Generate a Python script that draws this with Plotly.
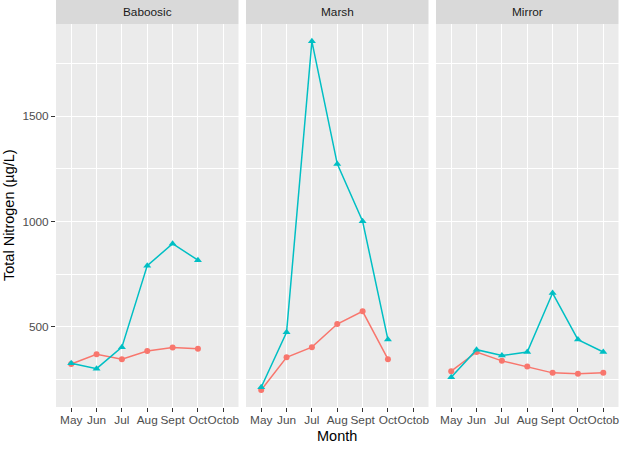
import plotly.graph_objects as go

months = ["May", "Jun", "Jul", "Aug", "Sept", "Oct", "Octob"]
sites = ["Baboosic", "Marsh", "Mirror"]

# red series (circles)
red_baboosic = [324, 370, 347, 386, 402, 396]
red_marsh = [201, 356, 404, 514, 574, 347]
red_mirror = [290, 381, 339, 312, 282, 278, 282]

# teal series (triangles)
teal_baboosic = [328, 302, 404, 791, 895, 817]
teal_marsh = [214, 475, 1856, 1274, 1002, 440]
teal_mirror = [261, 392, 364, 381, 661, 440, 381]

y_major_ticks = [500, 1000, 1500]
y_minor_ticks = [250, 750, 1250, 1750]

red_series = [red_baboosic, red_marsh, red_mirror]
teal_series = [teal_baboosic, teal_marsh, teal_mirror]

RED = "#F8766D"
TEAL = "#00BFC4"
FONT = "Liberation Sans, Arial, sans-serif"

W, H = 624, 452
panel_px = [(56, 238.5), (246, 428.5), (436, 618.5)]
top_px, bottom_px = 24, 407

fig = go.Figure()
layout = dict(
    width=W, height=H,
    margin=dict(l=0, r=0, t=0, b=0),
    paper_bgcolor="white", plot_bgcolor="#EBEBEB",
    showlegend=False,
    font=dict(family=FONT),
)

ydom = [(H - bottom_px) / H, (H - top_px) / H]
shapes = []
annotations = []
for i, site in enumerate(sites):
    suf = "" if i == 0 else str(i + 1)
    xa = "x" + suf
    ya = "y" + suf
    r = red_series[i]
    t = teal_series[i]
    fig.add_trace(go.Scatter(
        x=months[:len(r)], y=r, xaxis=xa, yaxis=ya, mode="lines+markers",
        line=dict(color=RED, width=1.5), marker=dict(color=RED, size=6, symbol="circle"),
    ))
    fig.add_trace(go.Scatter(
        x=months[:len(t)], y=t, xaxis=xa, yaxis=ya, mode="lines+markers",
        line=dict(color=TEAL, width=1.5), marker=dict(color=TEAL, size=7, symbol="triangle-up"),
    ))
    x0, x1 = panel_px[i]
    layout["xaxis" + suf] = dict(
        domain=[x0 / W, x1 / W], anchor=ya,
        type="category", categoryorder="array", categoryarray=months,
        range=[-0.6, 6.6], tickmode="array", tickvals=months, ticktext=months,
        tickangle=0, showgrid=True, gridcolor="white", gridwidth=1.1,
        ticks="outside", ticklen=4, tickwidth=1, tickcolor="#333333",
        ticklabelstandoff=-2,
        tickfont=dict(size=11.8, color="#4D4D4D", family=FONT),
        showline=False, zeroline=False, fixedrange=True, automargin=False,
    )
    layout["yaxis" + suf] = dict(
        domain=ydom, anchor=xa, range=[120, 1938],
        tickmode="array", tickvals=y_major_ticks,
        showticklabels=(i == 0),
        ticks="outside" if i == 0 else "", ticklen=4, tickwidth=1, tickcolor="#333333",
        tickfont=dict(size=11.8, color="#4D4D4D", family=FONT),
        showgrid=True, gridcolor="white", gridwidth=1.1,
        minor=dict(tickmode="array", tickvals=y_minor_ticks, showgrid=True,
                   gridcolor="white", gridwidth=0.55, ticks=""),
        zeroline=False, showline=False, fixedrange=True, automargin=False,
    )
    shapes.append(dict(type="rect", xref="paper", yref="paper",
                       x0=x0 / W, x1=x1 / W, y0=ydom[1], y1=1.0,
                       fillcolor="#D9D9D9", line=dict(width=0), layer="below"))
    annotations.append(dict(text=site, xref="paper", yref="paper",
                            x=(x0 + x1) / 2 / W, y=(H - 12) / H,
                            xanchor="center", yanchor="middle", showarrow=False,
                            font=dict(size=11.8, color="#1A1A1A", family=FONT)))

annotations.append(dict(text="Month", xref="paper", yref="paper",
                        x=(56 + 618.5) / 2 / W, y=(H - 436) / H,
                        xanchor="center", yanchor="middle", showarrow=False,
                        font=dict(size=14.5, color="black", family=FONT)))
annotations.append(dict(text="Total Nitrogen (µg/L)", xref="paper", yref="paper",
                        x=9 / W, y=(H - 215) / H, textangle=-90,
                        xanchor="center", yanchor="middle", showarrow=False,
                        font=dict(size=14.5, color="black", family=FONT)))

layout["shapes"] = shapes
layout["annotations"] = annotations
fig.update_layout(**layout)
fig.write_html("out.html")
